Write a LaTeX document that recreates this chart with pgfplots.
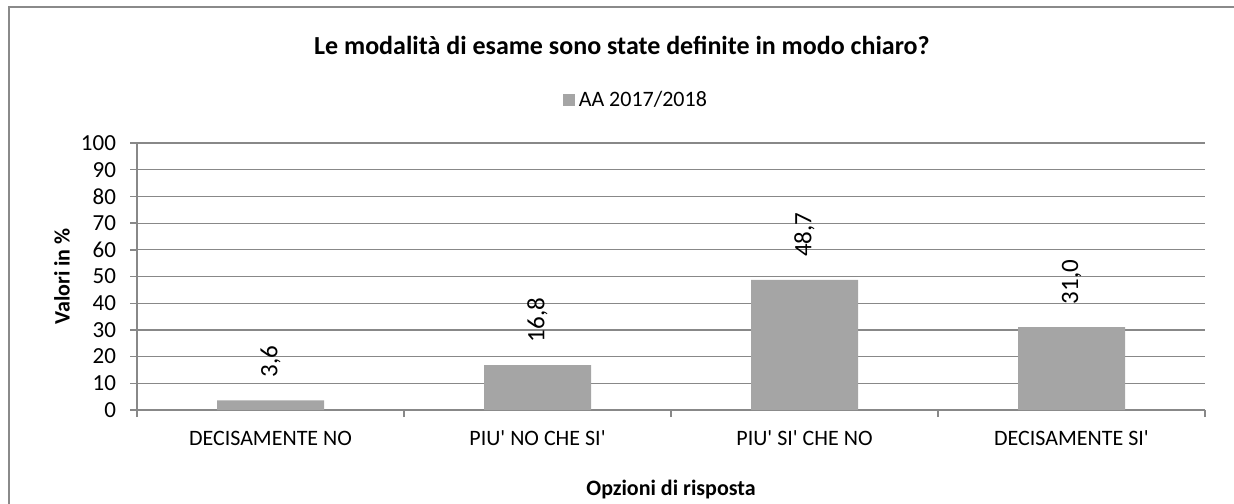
\documentclass[border=0pt]{standalone}
\usepackage{fontspec}
\setmainfont{Carlito}
\usepackage{pgfplots}
\pgfplotsset{compat=1.18}
\definecolor{barcol}{HTML}{A5A5A5}
\definecolor{gridcol}{HTML}{888888}
\definecolor{framecol}{HTML}{8A8A8A}
\begin{document}
\begin{tikzpicture}
\useasboundingbox (0,0) rectangle (617pt,-251.5pt);
\draw[framecol, line width=0.6pt] (4.5pt,-260pt) -- (4.5pt,-3.5pt) -- (630pt,-3.5pt);
\begin{axis}[
  at={(68.5pt,-71.5pt)}, anchor=north west,
  scale only axis, width=534pt, height=133.5pt,
  xmin=-0.5, xmax=3.5, ymin=0, ymax=100,
  ytick={0,10,...,100},
  xtick={-0.5,0.5,1.5,2.5,3.5}, xticklabels={},
  extra x ticks={0,1,2,3},
  extra x tick labels={DECISAMENTE NO,PIU\textquotesingle{} NO CHE SI\textquotesingle,PIU\textquotesingle{} SI\textquotesingle{} CHE NO,DECISAMENTE SI\textquotesingle},
  extra x tick style={major tick length=0pt, grid=none},
  axis x line*=bottom, axis y line*=left,
  axis line style={gridcol, line width=0.7pt, -},
  tick style={gridcol, line width=0.7pt},
  major tick length=3.5pt, tick align=outside,
  ymajorgrids, grid style={gridcol, line width=0.6pt},
  /pgf/number format/assume math mode=true,
  tick label style={font=\fontsize{11pt}{13pt}\selectfont, black},
  yticklabel style={font=\fontsize{11.5pt}{13pt}\selectfont, xshift=-3.5pt},
  xticklabel style={yshift=-7pt},
  ylabel={Valori in \%}, xlabel={Opzioni di risposta},
  every axis y label/.style={at={(axis description cs:0,0.5)}, xshift=-37.5pt, rotate=90, anchor=center, font=\fontsize{11pt}{13pt}\selectfont\bfseries},
  every axis x label/.style={at={(axis description cs:0.5,0)}, anchor=center, yshift=-40pt, font=\fontsize{11pt}{13pt}\selectfont\bfseries},
  title={Le modalità di esame sono state definite in modo chiaro?},
  every axis title/.style={at={(axis description cs:0.454,1.367)}, anchor=center, font=\fontsize{13pt}{15pt}\selectfont\bfseries},
  legend style={at={(axis description cs:0.468,1.161)}, anchor=center, draw=none, fill=none,
    font=\fontsize{11pt}{13pt}\selectfont, inner sep=0pt},
  legend image code/.code={\fill[barcol] (0pt,-3pt) rectangle (6pt,3pt);},
  nodes near coords,
  nodes near coords style={rotate=90, anchor=west, xshift=8pt, font=\fontsize{12.5pt}{14pt}\selectfont, black,
    /pgf/number format/.cd, fixed, fixed zerofill, precision=1, use comma, assume math mode=true},
]
\addplot[ybar, bar width=53.5pt, fill=barcol, draw=none] coordinates {(0,3.6) (1,16.8) (2,48.7) (3,31.0)};
\addlegendentry{AA 2017/2018}
\end{axis}
\end{tikzpicture}
\end{document}
